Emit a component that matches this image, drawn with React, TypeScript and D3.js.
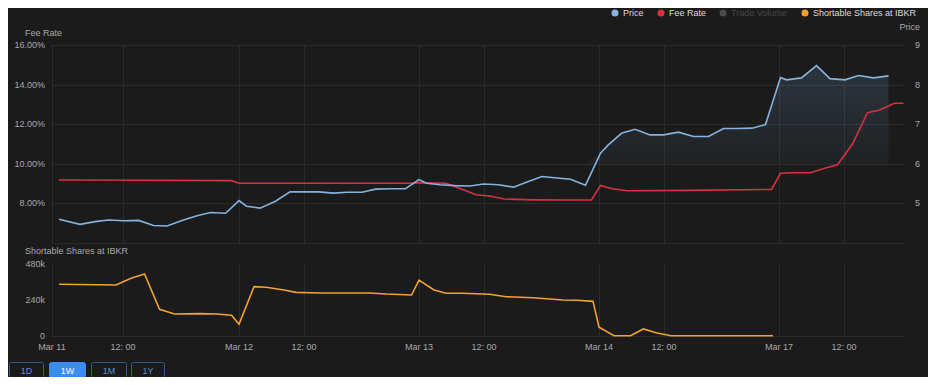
import React from "react";
import * as d3 from "d3";

// ---- data (x = trading hours since Mar 11 session start) ----
const priceT = [0, 1.4, 2.4, 3.3, 4.3, 5.3, 6.3, 7.2, 8.2, 9.2, 10.1, 11.1, 12.0, 12.5, 13.4, 14.4, 15.4, 16.3, 17.3, 18.3, 19.2, 20.2, 21.1, 22.1, 23.1, 24.0, 24.5, 25.4, 26.4, 27.4, 28.3, 29.3, 30.3, 31.2, 32.2, 33.2, 34.1, 35.1, 36.1, 36.6, 37.5, 38.4, 39.4, 40.3, 41.3, 42.3, 43.3, 44.3, 45.2, 46.2, 47.1, 48.1, 48.5, 49.5, 50.5, 51.4, 52.4, 53.3, 54.3, 55.3];
const priceV = [4.6, 4.47, 4.54, 4.58, 4.56, 4.57, 4.44, 4.43, 4.57, 4.69, 4.77, 4.75, 5.07, 4.93, 4.88, 5.05, 5.29, 5.29, 5.29, 5.26, 5.28, 5.28, 5.36, 5.37, 5.37, 5.6, 5.51, 5.47, 5.45, 5.44, 5.49, 5.47, 5.41, 5.54, 5.68, 5.64, 5.61, 5.46, 6.27, 6.47, 6.77, 6.87, 6.73, 6.73, 6.8, 6.69, 6.69, 6.89, 6.89, 6.9, 6.99, 8.18, 8.12, 8.17, 8.48, 8.15, 8.12, 8.23, 8.17, 8.22];

const feeT = [0, 6, 11.5, 12.0, 18, 23.4, 23.9, 25.8, 26.7, 27.8, 28.7, 29.7, 31.6, 33.9, 35.5, 36.1, 36.9, 37.9, 42, 47.5, 48.1, 48.9, 50.1, 51.1, 51.9, 52.9, 53.9, 54.7, 55.7, 56.3];
const feeV = [9.18, 9.17, 9.15, 9.02, 9.02, 9.02, 9.05, 9.02, 8.77, 8.44, 8.37, 8.22, 8.18, 8.17, 8.17, 8.91, 8.74, 8.64, 8.66, 8.71, 9.52, 9.55, 9.55, 9.79, 9.95, 11.0, 12.58, 12.72, 13.06, 13.06];

const sharesT = [0, 3.8, 4.8, 5.7, 6.7, 7.7, 9.4, 10.5, 11.5, 12.0, 13.0, 13.8, 15.0, 15.8, 17.4, 20.7, 21.8, 23.5, 24.0, 25.0, 25.8, 26.9, 28.7, 29.8, 31.6, 33.6, 34.5, 35.6, 36.0, 37.0, 38.1, 38.96, 39.8, 40.8, 47.6];
const sharesV = [345, 340, 385, 413, 178, 147, 149, 147, 138, 78, 329, 325, 307, 291, 287, 287, 280, 273, 373, 307, 285, 285, 278, 262, 255, 240, 238, 231, 58, 2, 2, 47, 22, 2, 2];

const xTickT = [-0.47, 4.27, 12, 16.33, 24, 28.33, 36, 40.33, 48, 52.33];
const xTickLabels = ["Mar 11", "12: 00", "Mar 12", "12: 00", "Mar 13", "12: 00", "Mar 14", "12: 00", "Mar 17", "12: 00"];
const feeTicks = [6, 8, 10, 12, 14, 16];
const priceTicks = [4, 5, 6, 7, 8, 9];
const shareTicks = [0, 240, 480];
const legendNames = ["Price", "Fee Rate", "Trade Volume", "Shortable Shares at IBKR"];
const rangeButtons = ["1D", "1W", "1M", "1Y"];

const W = 936, H = 385;
const BG = "#1b1b1b";
const FONT = "'Liberation Sans', Arial, sans-serif";
const FS = 9;
const C_PRICE = "#86b3de";
const C_FEE = "#d8323f";
const C_SHARES = "#f2a235";
const C_GRID = "#2c2c2c";
const C_LABEL = "#a9a9a9";

export default function App() {
  const x = d3.scaleLinear().domain([-0.47, 56.4]).range([52, 905]);
  const yFee = d3.scaleLinear().domain([6, 16]).range([243, 45]);
  const yPrice = d3.scaleLinear().domain([4, 9]).range([243, 45]);
  const yShares = d3.scaleLinear().domain([0, 480]).range([336, 264]);

  const price = priceT.map((t, i) => ({ t, v: priceV[i] }));
  const fee = feeT.map((t, i) => ({ t, v: feeV[i] }));
  const shares = sharesT.map((t, i) => ({ t, v: sharesV[i] }));

  const priceLine = d3.line<any>().x(d => x(d.t)).y(d => yPrice(d.v))(price) || "";
  const priceArea = d3.area<any>().x(d => x(d.t)).y0(yPrice(6)).y1(d => yPrice(Math.max(d.v, 6)))(price) || "";
  const feeLine = d3.line<any>().x(d => x(d.t)).y(d => yFee(d.v))(fee) || "";
  const sharesLine = d3.line<any>().x(d => x(d.t)).y(d => yShares(d.v))(shares) || "";

  const legendColors = [C_PRICE, "#e0303e", "#4a4a4a", "#f5a02a"];
  const legendTextColors = ["#dcdcdc", "#dcdcdc", "#4a4a4a", "#dcdcdc"];
  const legendX = [615, 661, 723, 805];

  const btnX = [9, 49, 91, 131];
  const btnW = [34, 36, 35, 33];

  return (
    <div style={{ margin: -8, width: W, height: H, background: BG }}>
      <svg width={W} height={H} style={{ display: "block", fontFamily: FONT }}>
        <defs>
          <linearGradient id="pg" gradientUnits="userSpaceOnUse" x1="0" y1={45} x2="0" y2={yPrice(6)}>
            <stop offset="0" stopColor="#7cb5ec" stopOpacity={0.2} />
            <stop offset="1" stopColor="#7cb5ec" stopOpacity={0.04} />
          </linearGradient>
        </defs>
        <rect width={W} height={H} fill={BG} />

        {/* top panel grid */}
        {feeTicks.map(v => (
          <line key={"hg" + v} x1={52} x2={905} y1={Math.round(yFee(v)) + 0.5} y2={Math.round(yFee(v)) + 0.5} stroke={C_GRID} strokeWidth={1} />
        ))}
        {xTickT.map((t, i) => (
          <line key={"vg" + i} x1={Math.round(x(t)) + 0.5} x2={Math.round(x(t)) + 0.5} y1={45} y2={243} stroke={C_GRID} />
        ))}
        {/* bottom panel grid */}
        {xTickT.map((t, i) => (
          <line key={"vg2" + i} x1={Math.round(x(t)) + 0.5} x2={Math.round(x(t)) + 0.5} y1={264} y2={336} stroke={C_GRID} />
        ))}
        <line x1={52} x2={905} y1={336.5} y2={336.5} stroke={C_GRID} />

        {/* axis labels top */}
        <text x={25} y={36} fill={C_LABEL} fontSize={FS}>Fee Rate</text>
        {feeTicks.filter(v => v > 6).map(v => (
          <text key={"fl" + v} x={45} y={yFee(v) + 3} fill={C_LABEL} fontSize={FS} textAnchor="end">
            {v.toFixed(2)}%
          </text>
        ))}
        <text x={920} y={30} fill={C_LABEL} fontSize={FS} textAnchor="end">Price</text>
        {priceTicks.filter(v => v > 4).map(v => (
          <text key={"pl" + v} x={915} y={yPrice(v) + 3} fill={C_LABEL} fontSize={FS}>
            {v}
          </text>
        ))}

        {/* series top */}
        <path d={priceArea} fill="url(#pg)" />
        <path d={feeLine} fill="none" stroke={C_FEE} strokeWidth={1.6} />
        <path d={priceLine} fill="none" stroke={C_PRICE} strokeWidth={1.6} />

        {/* bottom panel */}
        <text x={25} y={254} fill={C_LABEL} fontSize={FS}>Shortable Shares at IBKR</text>
        {shareTicks.map(v => (
          <text key={"sl" + v} x={45} y={yShares(v) + 3} fill={C_LABEL} fontSize={FS} textAnchor="end">
            {v === 0 ? "0" : v + "k"}
          </text>
        ))}
        <path d={sharesLine} fill="none" stroke={C_SHARES} strokeWidth={1.6} />

        {/* x axis labels */}
        {xTickT.map((t, i) => (
          <text key={"xl" + i} x={x(t)} y={350} fill={C_LABEL} fontSize={FS} textAnchor="middle">
            {xTickLabels[i]}
          </text>
        ))}

        {/* legend */}
        {legendNames.map((n, i) => (
          <g key={n}>
            <circle cx={legendX[i]} cy={13} r={3.5} fill={legendColors[i]} />
            <text x={legendX[i] + 8} y={16} fill={legendTextColors[i]} fontSize={FS}>{n}</text>
          </g>
        ))}

        {/* range buttons */}
        {rangeButtons.map((b, i) => (
          <g key={b}>
            <rect x={btnX[i] + 0.5} y={362.5} width={btnW[i]} height={16} rx={2}
              fill={i === 1 ? "#3a8cf0" : "none"} stroke={i === 1 ? "#3a8cf0" : "#2d5a8f"} />
            <text x={btnX[i] + btnW[i] / 2 + 0.5} y={374} fontSize={FS} textAnchor="middle"
              fill={i === 1 ? "#ffffff" : "#5b8fd0"}>{b}</text>
          </g>
        ))}
      </svg>
    </div>
  );
}
